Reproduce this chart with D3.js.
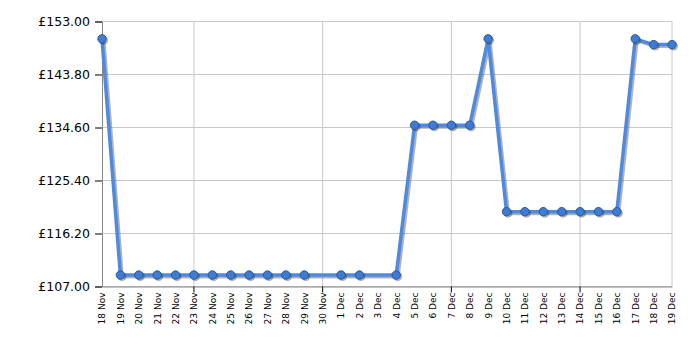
<!DOCTYPE html>
<html><head><meta charset="utf-8">
<script src="https://d3js.org/d3.v7.min.js"></script>
<style>body{margin:0;background:#fff}svg{display:block}</style>
</head><body>
<svg id="c" width="700" height="350"></svg>
<script>
const dates = ["18 Nov","19 Nov","20 Nov","21 Nov","22 Nov","23 Nov","24 Nov","25 Nov","26 Nov","27 Nov","28 Nov","29 Nov","30 Nov","1 Dec","2 Dec","3 Dec","4 Dec","5 Dec","6 Dec","7 Dec","8 Dec","9 Dec","10 Dec","11 Dec","12 Dec","13 Dec","14 Dec","15 Dec","16 Dec","17 Dec","18 Dec","19 Dec"];
const prices = [149.99,108.99,108.99,108.99,108.99,108.99,108.99,108.99,108.99,108.99,108.99,108.99,null,108.99,108.99,null,108.99,134.99,134.99,134.99,134.99,149.99,119.99,119.99,119.99,119.99,119.99,119.99,119.99,149.99,148.99,148.99];
const yTicks = [107.00,116.20,125.40,134.60,143.80,153.00];
const xGridDates = ["23 Nov","30 Nov","7 Dec","14 Dec"];

const svg = d3.select("#c");
const L=102, R=672, T=21.5, B=286.5;
const x = d3.scalePoint().domain(dates).range([L,R]);
const y = d3.scaleLinear().domain([107,153]).range([B,T]);

// gridlines
svg.append("g").selectAll("line").data(yTicks).join("line")
  .attr("x1",L).attr("x2",R).attr("y1",d=>y(d)).attr("y2",d=>y(d))
  .attr("stroke","#c8c8c8").attr("stroke-width",1);
svg.append("g").selectAll("line").data(xGridDates.concat(["19 Dec"])).join("line")
  .attr("x1",d=>x(d)).attr("x2",d=>x(d)).attr("y1",T).attr("y2",B)
  .attr("stroke","#c8c8c8").attr("stroke-width",1);

// axes
const yAxis = d3.axisLeft(y).tickValues(yTicks).tickSize(7).tickPadding(5)
  .tickFormat(d=>"£"+d.toFixed(2));
const gy = svg.append("g").attr("transform",`translate(${L},0)`).call(yAxis);
gy.select(".domain").attr("stroke","#888");
gy.selectAll(".tick line").attr("stroke","#000");
gy.selectAll("text").attr("font-family","DejaVu Sans, Verdana, sans-serif").attr("font-size","12.5px").attr("fill","#000");

const xAxis = d3.axisBottom(x).tickSize(0).tickPadding(0);
const gx = svg.append("g").attr("transform",`translate(0,${B})`).call(xAxis);
gx.select(".domain").attr("stroke","#888");
gx.selectAll(".tick text")
  .attr("font-family","DejaVu Sans, Verdana, sans-serif").attr("font-size","9px").attr("fill","#000")
  .attr("text-anchor","end").attr("dy","0.32em")
  .attr("transform","translate(0,6) rotate(-90)").attr("x",0).attr("y",0);
svg.append("g").selectAll("line").data(xGridDates).join("line")
  .attr("x1",d=>x(d)).attr("x2",d=>x(d)).attr("y1",B).attr("y2",B+6)
  .attr("stroke","#000");

const pts = dates.map((d,i)=>({d,v:prices[i]})).filter(p=>p.v!==null);
const line = d3.line().x(p=>x(p.d)).y(p=>y(p.v));

// shadow
svg.append("path").datum(pts).attr("d",line).attr("fill","none")
  .attr("stroke","#555").attr("stroke-opacity",0.45).attr("stroke-width",4)
  .attr("stroke-linejoin","round").attr("transform","translate(1.5,1.5)");
svg.append("path").datum(pts).attr("d",line).attr("fill","none")
  .attr("stroke","#4d8ae0").attr("stroke-width",3.5).attr("stroke-linejoin","round");

svg.append("g").selectAll("circle").data(pts).join("circle")
  .attr("cx",p=>x(p.d)+1.5).attr("cy",p=>y(p.v)+1.5).attr("r",4.5)
  .attr("fill","#333").attr("fill-opacity",0.4);
svg.append("g").selectAll("circle").data(pts).join("circle")
  .attr("cx",p=>x(p.d)).attr("cy",p=>y(p.v)).attr("r",4.2)
  .attr("fill","#3f7bd2").attr("stroke","#2a5a9e").attr("stroke-width",1);
</script>
</body></html>
